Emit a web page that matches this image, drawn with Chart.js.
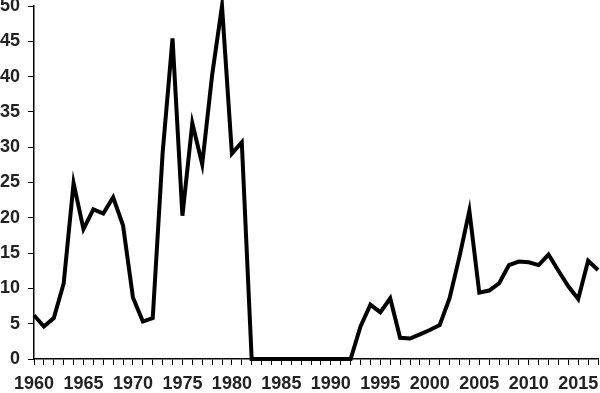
<!DOCTYPE html>
<html>
<head>
<meta charset="utf-8">
<script src="https://cdn.jsdelivr.net/npm/chart.js@4"></script>
<style>
  html, body { margin: 0; padding: 0; background: #fff; }
  #wrap { width: 600px; height: 393px; }
</style>
</head>
<body>
<div id="wrap"><canvas id="chart"></canvas></div>
<script>
// Datos de la serie anual 1960-2017
const years = [];
for (let y = 1960; y <= 2017; y++) years.push(String(y));

const values = [
    6.2, 4.6, 5.8, 10.7, 24.9, 18.4, 21.2, 20.6, 22.9, 18.9,
    8.7, 5.3, 5.8, 29.2, 45.4, 20.3, 33.4, 27.6, 40.2, 50.0,
    29.1, 30.7, 0, 0, 0, 0, 0, 0, 0, 0,
    0, 0, 0, 4.6, 7.7, 6.6, 8.6, 3.0, 2.9, 3.5,
    4.1, 4.8, 8.6, 14.5, 21.0, 9.4, 9.7, 10.7, 13.3, 13.8,
    13.7, 13.3, 14.8, 12.5, 10.3, 8.5, 13.9, 12.6
];

const yTicks = [0, 5, 10, 15, 20, 25, 30, 35, 40, 45, 50];

const font = { family: "'Liberation Sans', Arial, sans-serif", size: 18, weight: 'bold' };
const textColor = '#222';

new Chart(document.getElementById('chart'), {
    type: 'line',
    data: {
        labels: years,
        datasets: [{
            data: values,
            borderColor: '#000',
            borderWidth: 4,
            pointRadius: 0,
            tension: 0,
            fill: false,
            clip: false
        }]
    },
    options: {
        responsive: true, maintainAspectRatio: false,
        animation: false,
        layout: { padding: { top: 6, right: 2, left: 0, bottom: 0 } },
        plugins: { legend: { display: false }, tooltip: { enabled: false } },
        scales: {
            x: {
                offset: false,
                grid: { drawOnChartArea: false, drawTicks: true, tickLength: 6, color: '#000', lineWidth: 1 },
                border: { color: '#000', width: 1.5 },
                ticks: {
                    autoSkip: false, maxRotation: 0, minRotation: 0,
                    color: textColor, font: font, padding: 8,
                    callback: (v, i) => (Number(years[i]) % 5 === 0 ? years[i] : '')
                },
                afterFit: (axis) => { axis.height = 34; axis.paddingLeft = 0; axis.paddingRight = 0; }
            },
            y: {
                min: 0, max: 50,
                grid: { drawOnChartArea: false, drawTicks: true, tickLength: 6, color: '#000', lineWidth: 1 },
                border: { color: '#000', width: 1.5 },
                ticks: {
                    stepSize: 5, color: textColor, font: font, padding: 8,
                    callback: (v) => (yTicks.includes(v) ? v : '')
                },
                afterFit: (axis) => { axis.width = 34; axis.paddingTop = 0; axis.paddingBottom = 0; }
            }
        }
    }
});
</script>
</body>
</html>
